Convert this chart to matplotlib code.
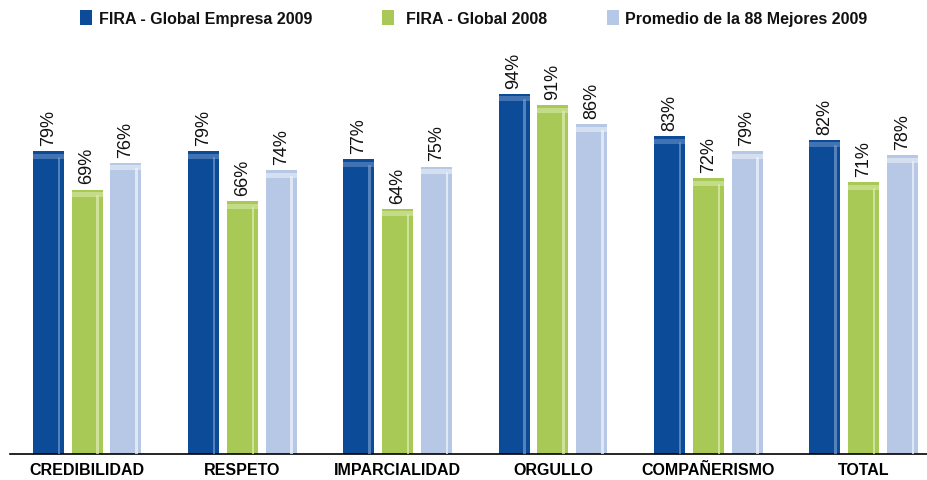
import matplotlib
matplotlib.use("Agg")
import matplotlib.pyplot as plt
import numpy as np
from matplotlib.patches import Rectangle

categorias = ["CREDIBILIDAD", "RESPETO", "IMPARCIALIDAD", "ORGULLO", "COMPAÑERISMO", "TOTAL"]
series = ["FIRA - Global Empresa 2009", "FIRA - Global 2008", "Promedio de la 88 Mejores 2009"]
fira_2009 = [79, 79, 77, 94, 83, 82]
fira_2008 = [69, 66, 64, 91, 72, 71]
mejores_2009 = [76, 74, 75, 86, 79, 78]

colores = ["#0b4b98", "#a9c957", "#b6c8e6"]
brillos = ["#6f95c8", "#dcebb0", "#eef2fa"]

fig = plt.figure(figsize=(9.28, 4.81), dpi=100)
ax = fig.add_axes([10 / 928, 26 / 481, 918 / 928, 414 / 481])

x = np.arange(len(categorias))
ancho = 0.2
desp = [-0.25, 0, 0.25]

for valores, d, c, b in zip([fira_2009, fira_2008, mejores_2009], desp, colores, brillos):
    pos = x + d
    ax.bar(pos, valores, ancho, color=c, zorder=2)
    # franja clara a la derecha y arriba (efecto brillo)
    ax.bar(pos + ancho * 0.34, np.array(valores) - 1.5, ancho * 0.08, color=b, alpha=0.75, zorder=3)
    ax.bar(pos, 1.3, ancho, bottom=np.array(valores) - 2.0, color=b, alpha=0.55, zorder=3)
    for px, v in zip(pos, valores):
        ax.text(px, v + 1.6, f"{v}%", rotation=90, ha="center", va="bottom",
                fontsize=13, family="Liberation Sans", color="#111111")

ax.set_xlim(-0.496, 5.415)
ax.set_ylim(0, 108)
ax.set_xticks(x)
ax.set_xticklabels(categorias, fontsize=11.5, fontweight="bold", family="Liberation Sans")
ax.tick_params(axis="x", length=0, pad=6)
ax.set_yticks([])
for s in ["top", "right", "left"]:
    ax.spines[s].set_visible(False)
ax.spines["bottom"].set_linewidth(1.2)

# leyenda superior
marca_x = [80, 382, 607]
texto_x = [99, 406, 625]
for mx, tx, c, nombre in zip(marca_x, texto_x, colores, series):
    fig.patches.append(Rectangle((mx / 928, 1 - 26 / 481), 12 / 928, 15 / 481,
                                 transform=fig.transFigure, facecolor=c, edgecolor="none"))
    fig.text(tx / 928, 1 - 24 / 481, nombre, ha="left", va="baseline", fontsize=11.5,
             fontweight="bold", family="Liberation Sans", color="#111111")

fig.savefig("out.png", dpi=100)
